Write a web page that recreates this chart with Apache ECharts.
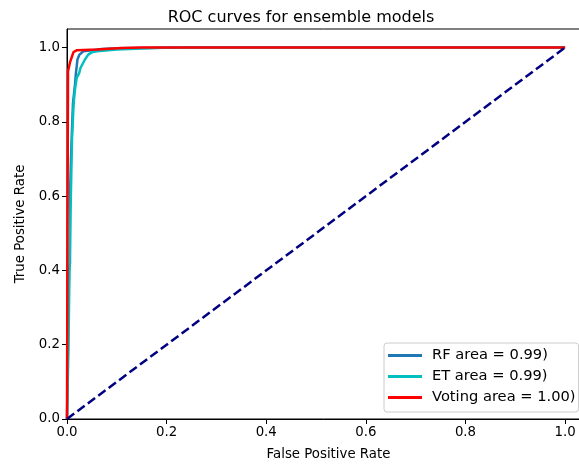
<!DOCTYPE html>
<html><head><meta charset="utf-8">
<script src="https://cdn.jsdelivr.net/npm/echarts@6/dist/echarts.min.js"></script>
<style>html,body{margin:0;padding:0;background:#fff}#c{width:579px;height:465px}</style>
</head><body><div id="c"></div>
<script>
const titleText = "ROC curves for ensemble models";
const xName = "False Positive Rate";
const yName = "True Positive Rate";
const seriesNames = ["RF area = 0.99)", "ET area = 0.99)", "Voting area = 1.00)"];
const rfPoints = [[0,0],[0.002,0.2],[0.004,0.4],[0.006,0.42],[0.006,0.6],[0.008,0.7],[0.01,0.78],[0.012,0.85],[0.016,0.9],[0.018,0.932],[0.021,0.968],[0.025,0.981],[0.033,0.99],[0.046,0.992],[0.07,0.996],[0.1,0.998],[0.25,1.0],[1,1]];
const etPoints = [[0,0],[0.003,0.2],[0.005,0.4],[0.007,0.55],[0.008,0.617],[0.01,0.752],[0.0127,0.833],[0.014,0.86],[0.016,0.887],[0.0195,0.918],[0.0247,0.932],[0.027,0.945],[0.0295,0.95],[0.036,0.968],[0.0427,0.981],[0.0495,0.987],[0.06,0.99],[0.1,0.995],[0.2,1.0],[1,1]];
const votingPoints = [[0,0],[0.001,0.5],[0.002,0.936],[0.006,0.96],[0.013,0.988],[0.02,0.993],[0.06,0.995],[0.11,0.999],[0.15,1.0],[1,1]];
const diagonalPoints = [[0,0],[1,1]];
const xTicks = [0,0.2,0.4,0.6,0.8,1.0];
const yTicks = [0,0.2,0.4,0.6,0.8,1.0];
const colors = ["#1f77b4", "#00bfbf", "#ff0000", "#000080"];

const font = "DejaVu Sans";
const chart = echarts.init(document.getElementById('c'), null, {renderer:'canvas'});
const fmtX = v => (xTicks.some(t => Math.abs(t - v) < 1e-9) ? v.toFixed(1) : '');
const fmtY = v => (yTicks.some(t => Math.abs(t - v) < 1e-9) ? v.toFixed(1) : '');
chart.setOption({
  animation: false,
  backgroundColor: '#fff',
  title: {text: titleText, left: 296, top: 5, textAlign: 'center',
    textStyle: {fontFamily: font, fontSize: 16, fontWeight: 'normal', color: '#000'}},
  grid: {left: 67, top: 29, width: 523, height: 390, show: true, borderColor: '#000', borderWidth: 1,
    backgroundColor: 'transparent', containLabel: false, outerBoundsMode: 'none'},
  xAxis: {type: 'value', min: 0, max: 1.05, interval: 0.2,
    name: xName, nameLocation: 'middle', nameGap: 29,
    nameTextStyle: {fontFamily: font, fontSize: 13.33, color: '#000'},
    axisLine: {lineStyle: {color: '#000', width: 1}},
    axisTick: {show: true, length: 5, lineStyle: {color: '#000'}},
    axisLabel: {fontFamily: font, fontSize: 13.33, color: '#000', margin: 7, formatter: fmtX, showMaxLabel: false},
    splitLine: {show: false}},
  yAxis: {type: 'value', min: 0, max: 1.05, interval: 0.2,
    name: yName, nameLocation: 'middle', nameGap: 40, nameRotate: 90,
    nameTextStyle: {fontFamily: font, fontSize: 13.33, color: '#000'},
    axisLine: {show: true, lineStyle: {color: '#000', width: 1}},
    axisTick: {show: true, length: 5, lineStyle: {color: '#000'}},
    axisLabel: {fontFamily: font, fontSize: 13.33, color: '#000', margin: 7, formatter: fmtY, showMaxLabel: false},
    splitLine: {show: false}},
  legend: {orient: 'vertical', left: 384, top: 343, data: seriesNames,
    icon: 'rect', itemWidth: 34, itemHeight: 3, itemGap: 6,
    padding: [5, 3, 7, 4], borderColor: '#ccc', borderWidth: 1, borderRadius: 3, backgroundColor: '#fff',
    textStyle: {fontFamily: font, fontSize: 14.67, color: '#000', padding: [0,0,0,5]}},
  series: [
    {name: seriesNames[0], type: 'line', data: rfPoints, symbol: 'none', color: colors[0], lineStyle: {width: 2.5, color: colors[0]}, z: 2},
    {name: seriesNames[1], type: 'line', data: etPoints, symbol: 'none', color: colors[1], lineStyle: {width: 2.5, color: colors[1]}, z: 3},
    {name: seriesNames[2], type: 'line', data: votingPoints, symbol: 'none', color: colors[2], lineStyle: {width: 2.5, color: colors[2]}, z: 4},
    {name: 'diag', type: 'line', data: diagonalPoints, symbol: 'none', color: colors[3], lineStyle: {width: 2.5, color: colors[3], type: [9, 4]}, z: 5}
  ]
});
</script></body></html>
